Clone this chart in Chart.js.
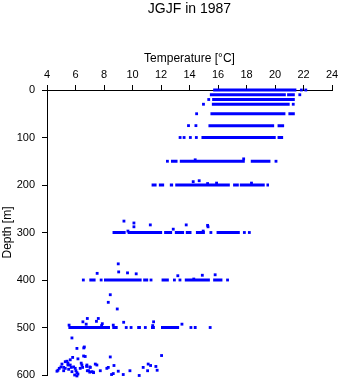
<!doctype html>
<html>
<head>
<meta charset="utf-8" />
<title>JGJF in 1987</title>
<script src="https://cdn.jsdelivr.net/npm/chart.js"></script>
<style>
  html, body { margin: 0; padding: 0; background: #fff; }
  canvas { display: block; }
</style>
</head>
<body>
<canvas id="c" width="341" height="384"></canvas>
<script>
// Temperatur-Profil, Werte
const tempTicks = [4, 6, 8, 10, 12, 14, 16, 18, 20, 22, 24];
const depthTicks = [0, 100, 200, 300, 400, 500, 600];

// dichte Messreihen auf Standardtiefen: Tiefe, von T, bis T
const runDepth = [0, 10, 10, 20, 30, 50, 50, 75, 75, 100, 100,
  150, 150, 150,
  200, 200, 200, 200, 200, 200, 200,
  300, 300, 300, 300, 300, 300, 300,
  400, 400, 400, 400, 400, 400,
  500, 500, 500, 500, 500, 500];
const runFrom = [15.66, 15.43, 20.85, 15.59, 15.57, 15.47, 20.94, 15.33, 20.18, 14.84, 20.18,
  12.70, 13.32, 18.30,
  11.34, 11.85, 12.62, 13.00, 17.06, 17.53, 19.40,
  8.60, 9.66, 12.22, 12.97, 13.74, 14.45, 15.90,
  6.97, 8.00, 10.75, 12.04, 13.67, 15.66,
  5.50, 8.58, 10.33, 11.30, 12.00, 14.30];
const runTo = [21.50, 20.76, 21.39, 21.39, 21.03, 20.73, 21.39, 19.94, 20.64, 20.05, 20.57,
  13.16, 17.88, 19.68,
  11.69, 12.22, 12.85, 16.83, 17.46, 19.28, 19.58,
  9.52, 12.08, 12.78, 13.62, 14.14, 15.08, 17.53,
  7.41, 10.64, 11.10, 12.55, 15.43, 16.31,
  8.42, 8.96, 10.59, 11.57, 13.27, 14.50];

// Einzelmessungen
const obsTemp = [21.85, 22.16, 21.74, 15.35, 14.98, 21.28, 14.50, 13.93, 14.45,
  13.34, 13.62, 14.06, 14.48,
  12.45, 20.07, 14.40, 17.80,
  14.26, 14.68, 15.27, 15.90, 18.35,
  15.50, 17.85, 18.20, 9.40, 10.10, 10.10, 11.25, 12.86, 13.77, 15.27, 15.30, 9.68, 14.96,
  9.00, 9.03,
  6.55, 7.80, 11.30, 12.94, 13.33, 16.67, 7.52, 9.65, 10.26, 13.18, 14.90, 15.80, 14.30,
  8.44, 8.30, 8.93,
  9.56, 9.90, 10.90, 14.10, 15.45, 5.55, 6.52, 6.83, 6.75, 7.47, 7.60, 7.88, 7.83, 8.65, 9.38, 11.48, 11.42, 13.47,
  5.75, 6.10, 6.58, 6.62,
  5.80, 5.63, 5.40, 5.28, 6.57, 6.68, 6.17, 5.47, 5.47, 5.05, 4.98, 4.86, 4.77, 4.70,
  5.17, 5.28, 5.17, 5.63, 5.70, 5.52, 5.87, 5.98, 6.03, 6.10, 6.17, 6.40, 6.45, 6.50, 6.33,
  6.80, 7.04, 7.39, 7.50, 6.92, 7.15, 7.27, 7.74, 8.20, 8.44, 5.75, 5.94, 6.10,
  8.70, 8.30, 7.00, 6.78, 6.83, 7.00, 7.25, 8.53, 8.65, 9.00, 9.35, 9.82, 10.47,
  10.75, 11.06, 11.10, 11.27, 11.64, 11.73, 12.04];
const obsDepth = [0, 0, 10, 20, 30, 30, 50, 75, 75,
  100, 100, 100, 100,
  150, 150, 147, 145,
  193, 191, 197, 196, 196,
  300, 300, 300, 276, 280, 288, 284, 293, 284, 285, 288, 297, 297,
  366, 383,
  400, 400, 400, 400, 400, 400, 386, 385, 387, 391, 390, 389, 398,
  431, 447, 461,
  500, 500, 500, 500, 500, 495, 488, 481, 493, 487, 481, 492, 496, 495, 489, 488, 496, 493,
  522, 544, 543, 541,
  563, 568, 571, 572, 560, 561, 566, 575, 579, 577, 583, 586, 590, 592,
  584, 586, 591, 579, 584, 588, 583, 586, 591, 595, 598, 575, 579, 584, 586,
  579, 584, 577, 579, 591, 593, 595, 591, 586, 562, 593, 600, 602,
  580, 584, 583, 582, 591, 594, 594, 599, 597, 592, 599, 591, 601,
  584, 591, 577, 580, 582, 590, 559];

const BLUE = '#0000ff';

const runData = [];
runDepth.forEach((d, i) => {
  runData.push({ x: runFrom[i], y: d }, { x: runTo[i], y: d }, { x: null, y: null });
});
const obsData = obsTemp.map((t, i) => ({ x: t, y: obsDepth[i] }));

Chart.defaults.font.family = 'Arial, "Liberation Sans", sans-serif';
Chart.defaults.color = '#000';

new Chart(document.getElementById('c'), {
  type: 'scatter',
  data: {
    datasets: [
      { data: runData, showLine: true, spanGaps: false, pointRadius: 0, borderWidth: 3,
        borderColor: BLUE, borderCapStyle: 'butt', clip: false },
      { data: obsData, pointStyle: 'rect', pointRadius: 2, borderWidth: 0,
        backgroundColor: BLUE, clip: false }
    ]
  },
  options: {
    responsive: false,
    animation: false,
    devicePixelRatio: 1,
    layout: { padding: { left: 0, right: 9, top: 0, bottom: 9 } },
    plugins: {
      legend: { display: false },
      tooltip: { enabled: false },
      // Titel über der Plotfläche zentriert
      title: { display: true, fullSize: false, text: 'JGJF in 1987', font: { size: 14, weight: 'normal' },
        padding: { top: 1, bottom: 0 } }
    },
    scales: {
      x: {
        type: 'linear', position: 'top', min: 4, max: 24,
        afterBuildTicks: s => { s.ticks = tempTicks.map(v => ({ value: v })); },
        afterFit: s => { s.height = 72.2; s.paddingLeft = 0; s.paddingRight = 0; },
        ticks: { font: { size: 11 }, padding: 3, maxRotation: 0 },
        grid: { drawOnChartArea: false, drawTicks: true, tickLength: 5, color: '#000' },
        border: { display: true, color: '#000' },
        title: { display: true, text: 'Temperature [°C]', font: { size: 12 }, padding: { top: 34, bottom: 0 } }
      },
      y: {
        type: 'linear', reverse: true, min: 0, max: 600,
        afterBuildTicks: s => { s.ticks = depthTicks.map(v => ({ value: v })); },
        afterFit: s => { s.width = 47; s.paddingTop = 0; s.paddingBottom = 0; },
        ticks: { font: { size: 11 }, padding: 7 },
        grid: { drawOnChartArea: false, drawTicks: true, tickLength: 5, color: '#000' },
        border: { display: true, color: '#000' },
        title: { display: true, text: 'Depth [m]', font: { size: 12 }, padding: { top: 0, bottom: 0 } }
      }
    }
  }
});
</script>
</body>
</html>
